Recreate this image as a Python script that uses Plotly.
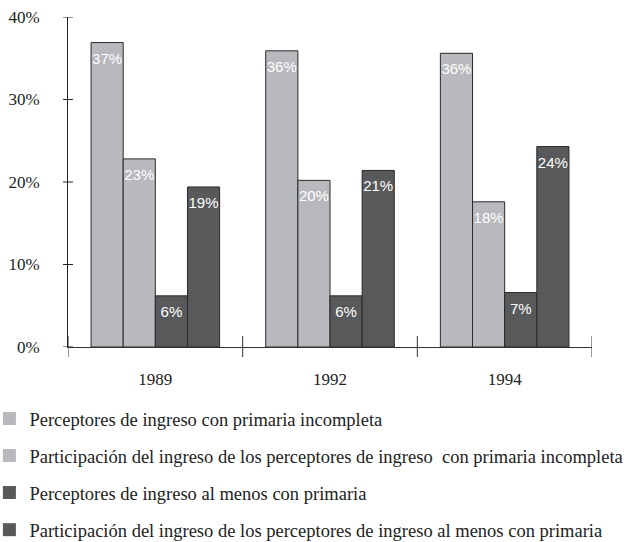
import plotly.graph_objects as go

# Survey years on the category axis
years = ["1989", "1992", "1994"]

# Shares (%) for each of the four series, per year
perceptores_incompleta = [36.9, 35.9, 35.6]
participacion_incompleta = [22.8, 20.2, 17.6]
perceptores_primaria = [6.2, 6.2, 6.6]
participacion_primaria = [19.4, 21.4, 24.3]

series_names = [
    "Perceptores de ingreso con primaria incompleta",
    "Participación del ingreso de los perceptores de ingreso  con primaria incompleta",
    "Perceptores de ingreso al menos con primaria",
    "Participación del ingreso de los perceptores de ingreso al menos con primaria",
]
series_values = [
    perceptores_incompleta,
    participacion_incompleta,
    perceptores_primaria,
    participacion_primaria,
]
series_colors = ["#b8b9bd", "#b8b9bd", "#58595b", "#58595b"]

y_ticks = [0, 10, 20, 30, 40]
y_tick_labels = ["0%", "10%", "20%", "30%", "40%"]

serif = "Liberation Serif"
sans = "Liberation Sans"

fig = go.Figure()
for i, (name, vals, col) in enumerate(zip(series_names, series_values, series_colors)):
    fig.add_trace(go.Bar(
        x=years,
        y=vals,
        name=name,
        legendgroup=f"g{i}",
        offsetgroup=str(i),
        showlegend=False,
        marker=dict(color=col, line=dict(color="#2a2a2a", width=1)),
    ))
# Value labels just below each bar top, placed in the same offset slots
for i, vals in enumerate(series_values):
    fig.add_trace(go.Scatter(
        x=years,
        y=vals,
        offsetgroup=str(i),
        mode="markers+text",
        marker=dict(size=14, color="rgba(0,0,0,0)"),
        texttemplate="%{y:.0f}%",
        textposition="bottom center",
        textfont=dict(family=sans, size=15, color="white"),
        showlegend=False,
        hoverinfo="skip",
        cliponaxis=False,
    ))
# Legend keys: plain filled squares without outline
for i, (name, col) in enumerate(zip(series_names, series_colors)):
    fig.add_trace(go.Scatter(
        x=[None], y=[None],
        name=name,
        legendgroup=f"g{i}",
        offsetgroup=str(i),
        mode="markers",
        marker=dict(symbol="square", size=13, color=col, line=dict(width=0)),
    ))

# Crossing tick marks on both axes
shapes = []
for t in y_ticks:
    shapes.append(dict(
        type="line", xref="paper", yref="y",
        xsizemode="pixel", xanchor=0, x0=-5, x1=5,
        y0=t, y1=t, line=dict(color="#222", width=1),
    ))
for b in [-0.5, 0.5, 1.5, 2.5]:
    shapes.append(dict(
        type="line", xref="x", yref="paper",
        ysizemode="pixel", yanchor=0, y0=-10, y1=11,
        x0=b, x1=b, line=dict(color="#333", width=1),
    ))

fig.update_layout(
    width=629, height=542,
    margin=dict(l=68, r=37, t=17, b=195, autoexpand=False),
    paper_bgcolor="white", plot_bgcolor="white",
    barmode="group", bargap=0.264, bargroupgap=0,
    scattermode="group", scattergap=0.264,
    showlegend=True,
    legend=dict(
        orientation="v",
        xref="paper", yref="container",
        x=-0.15, y=0.262, xanchor="left", yanchor="top",
        font=dict(family=serif, size=18.5, color="#222"),
        tracegroupgap=10,
        traceorder="grouped",
        bgcolor="rgba(0,0,0,0)",
    ),
    shapes=shapes,
    font=dict(family=serif, color="#222"),
)
fig.update_xaxes(
    type="category",
    range=[-0.5, 2.5],
    showline=True, linecolor="#333", linewidth=1,
    ticks="", showgrid=False, zeroline=False,
    tickfont=dict(family=serif, size=17, color="#222"),
    ticklabelstandoff=17,
)
fig.update_yaxes(
    range=[0, 40],
    tickvals=y_ticks, ticktext=y_tick_labels,
    showline=True, linecolor="#222", linewidth=1,
    ticks="", showgrid=False, zeroline=False,
    tickfont=dict(family=serif, size=17, color="#222"),
    ticklabelstandoff=24,
)

fig.write_html("out.html")
